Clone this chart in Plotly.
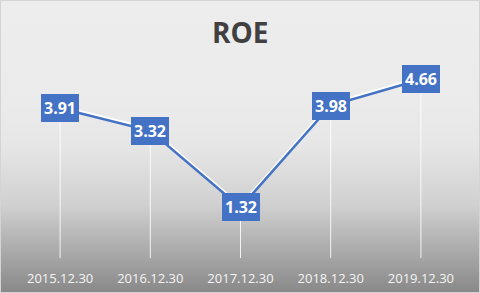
import plotly.graph_objects as go

# ---- data ----
categories = ["2015.12.30", "2016.12.30", "2017.12.30", "2018.12.30", "2019.12.30"]
roe_values = [3.91, 3.32, 1.32, 3.98, 4.66]
value_labels = ["3.91", "3.32", "1.32", "3.98", "4.66"]
title_text = "ROE"

W, H = 480, 293
BLUE = "#4472c4"

# plot area in pixels
left_px, right_px = 15, 466
bottom_px, top_px = 258, 58.8
x_dom = [left_px / W, right_px / W]
y_dom = [(H - bottom_px) / H, (H - top_px) / H]
shadow_shift = 2.0 / H
y_dom_shadow = [y_dom[0] + shadow_shift, y_dom[1] + shadow_shift]
y_range = [0, 5.2]

idx = list(range(len(categories)))

fig = go.Figure()

# background gradient (full paper, subplot xy drawn first)
fig.add_trace(go.Scatter(
    x=[0, 1, 1, 0, 0], y=[0, 0, 1, 1, 0],
    xaxis="x", yaxis="y",
    mode="none", fill="toself",
    fillgradient=dict(
        type="vertical", start=0, stop=1,
        colorscale=[[0, "#888888"], [0.1, "#a0a0a0"], [0.3, "#d0d0d0"],
                    [0.5, "#e6e6e6"], [0.65, "#ebebeb"], [1, "#ededed"]],
    ),
    hoverinfo="skip", showlegend=False,
))

# white shadow line (offset up)
fig.add_trace(go.Scatter(
    x=idx, y=roe_values, xaxis="x2", yaxis="y2",
    mode="lines", line=dict(color="white", width=2.5),
    hoverinfo="skip", showlegend=False,
))

# main line with drop lines
fig.add_trace(go.Scatter(
    x=idx, y=roe_values, xaxis="x3", yaxis="y3",
    mode="lines", line=dict(color=BLUE, width=2.5),
    error_y=dict(type="data", symmetric=False, array=[0] * len(roe_values),
                 arrayminus=roe_values, color="rgba(255,255,255,0.85)",
                 thickness=1, width=0),
    showlegend=False,
))

common_x = dict(range=[-0.5, len(categories) - 0.5], showgrid=False, zeroline=False,
                showline=False, fixedrange=True)
common_y = dict(range=y_range, showgrid=False, zeroline=False, showline=False,
                showticklabels=False, fixedrange=True)

fig.update_layout(
    width=W, height=H,
    margin=dict(l=0, r=0, t=0, b=0),
    paper_bgcolor="#ededed", plot_bgcolor="rgba(0,0,0,0)",
    font=dict(family="Open Sans", color="#f2f2f2"),
    xaxis=dict(domain=[0, 1], range=[0, 1], visible=False, fixedrange=True),
    yaxis=dict(domain=[0, 1], range=[0, 1], visible=False, fixedrange=True),
    xaxis2=dict(domain=x_dom, anchor="y2", showticklabels=False, **common_x),
    yaxis2=dict(domain=y_dom_shadow, anchor="x2", **common_y),
    xaxis3=dict(domain=x_dom, anchor="y3", tickmode="array", tickvals=idx,
                ticktext=categories, ticks="", ticklabelstandoff=11,
                tickfont=dict(family="Open Sans", size=13, color="#f4f4f4"),
                **common_x),
    yaxis3=dict(domain=y_dom, anchor="x3", **common_y),
    showlegend=False,
)

annotations = [dict(
    text="<b>%s</b>" % title_text, x=0.5, y=(H - 32) / H, xref="paper", yref="paper",
    xanchor="center", yanchor="middle", showarrow=False,
    font=dict(family="Open Sans", size=28, color="#404040"),
)]
for i, (v, lab) in enumerate(zip(roe_values, value_labels)):
    annotations.append(dict(
        text="<b>%s</b>" % lab, x=i, y=v, xref="x3", yref="y3",
        xanchor="center", yanchor="middle", showarrow=False,
        bgcolor=BLUE, borderpad=3, borderwidth=0,
        font=dict(family="Open Sans", size=16, color="white"),
    ))
fig.update_layout(annotations=annotations)

fig.add_shape(type="rect", xref="paper", yref="paper", x0=0, y0=0, x1=1, y1=1,
              line=dict(color="#d4d4d4", width=2), fillcolor="rgba(0,0,0,0)")

fig.write_html("out.html")
